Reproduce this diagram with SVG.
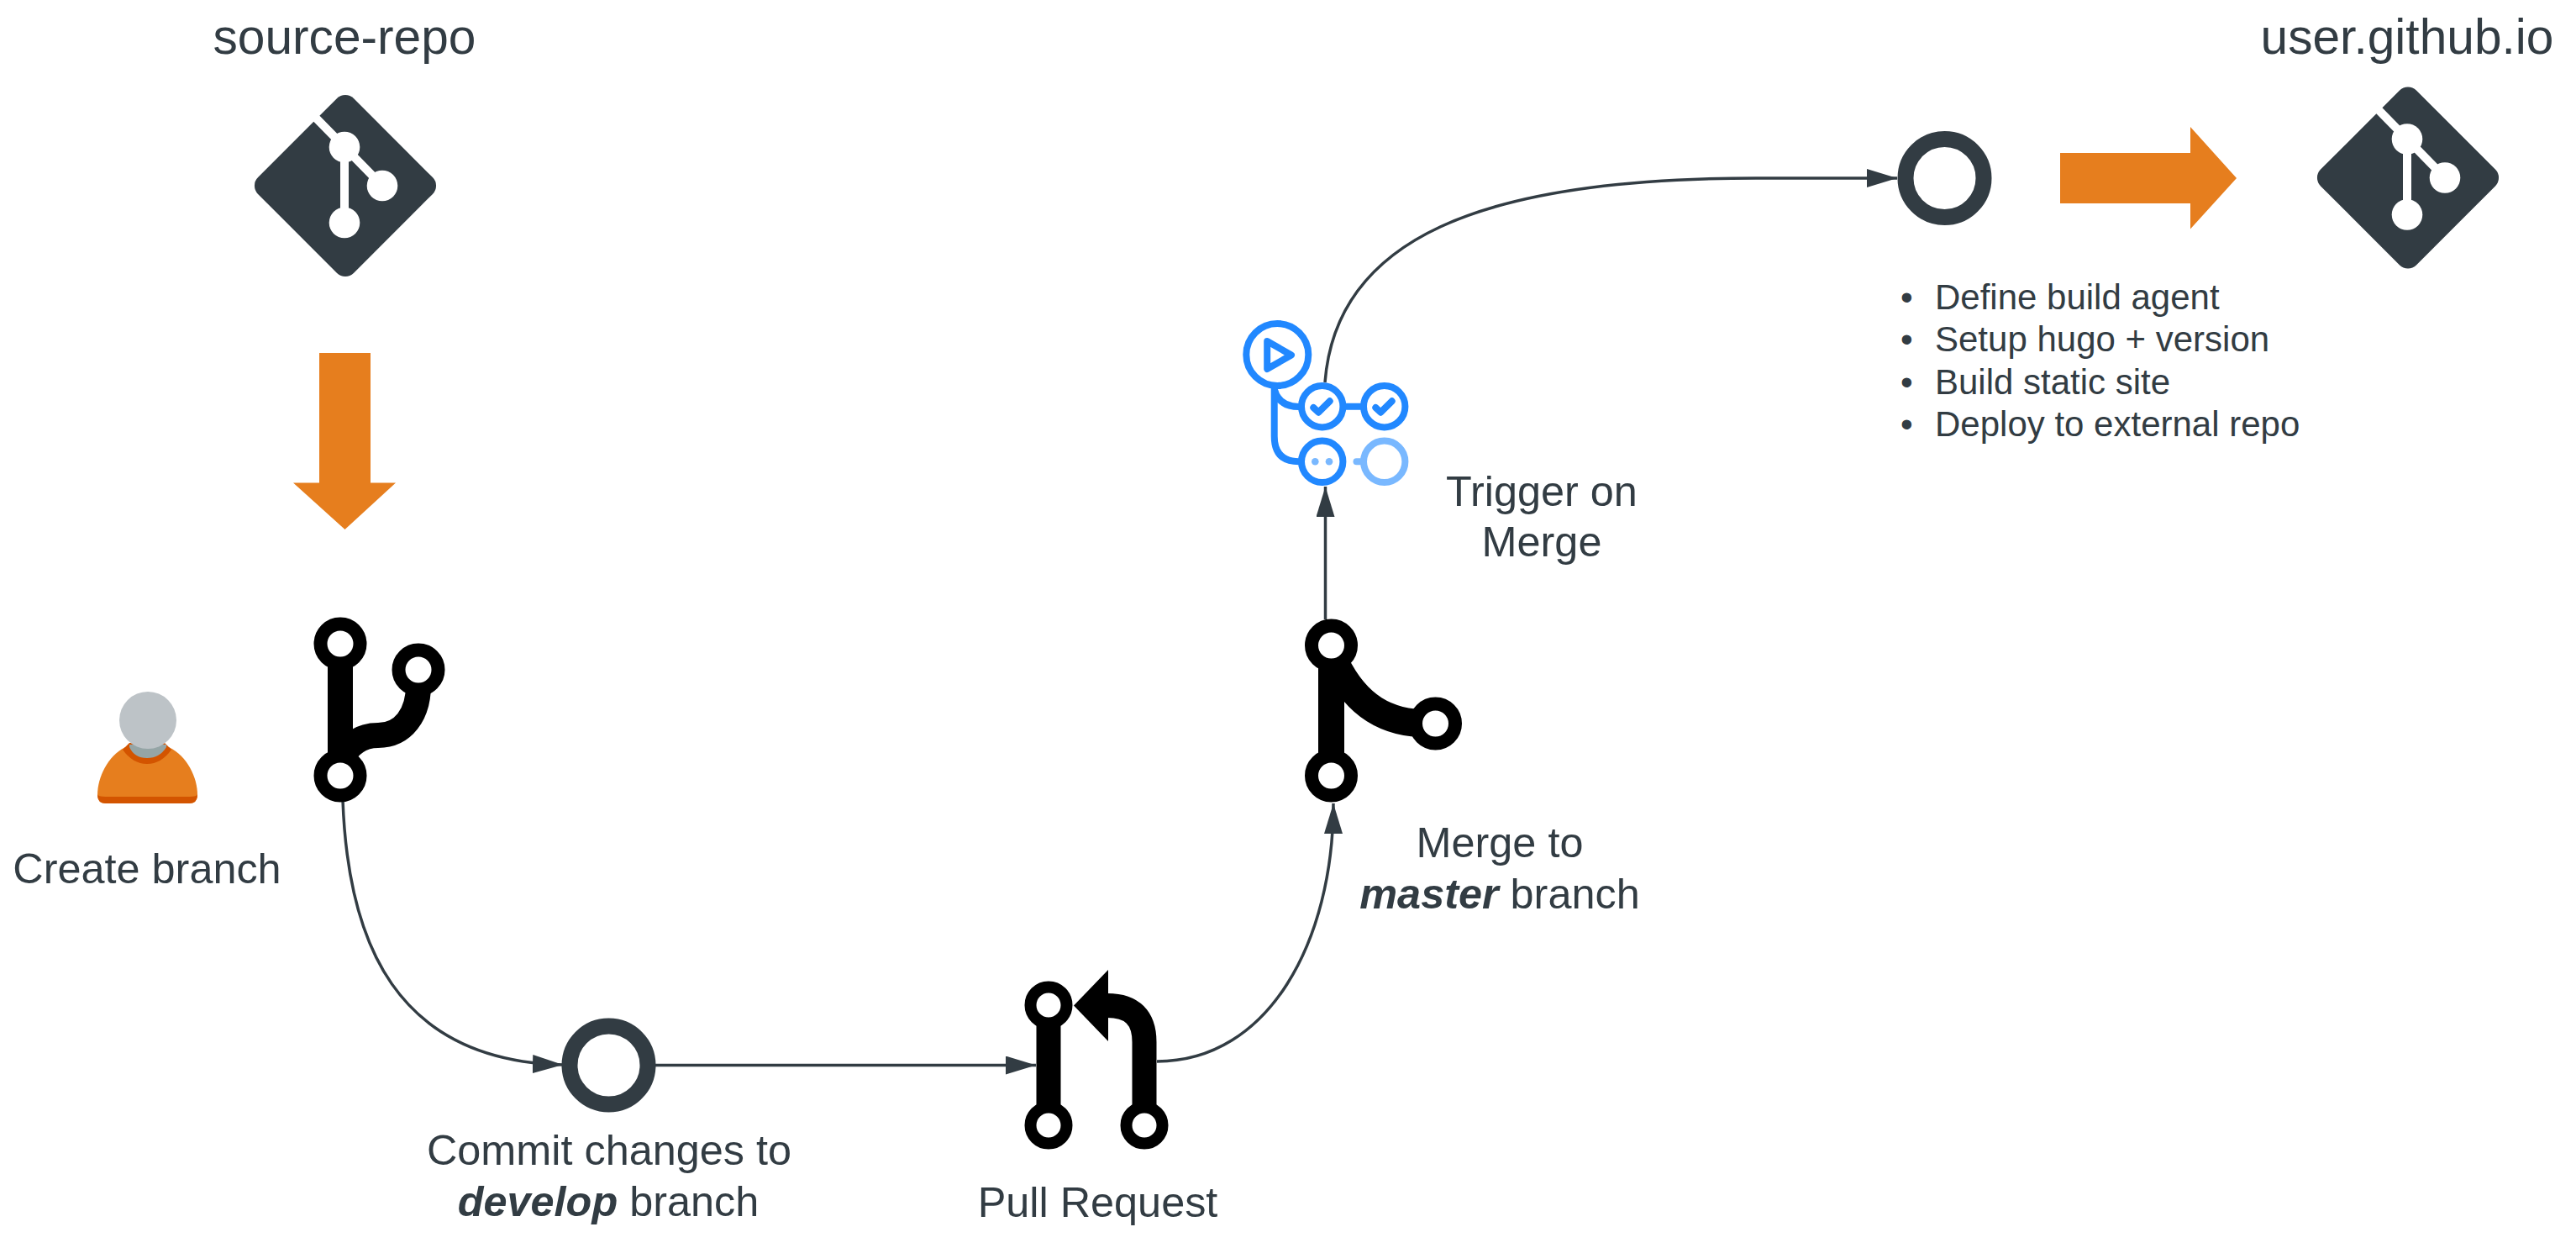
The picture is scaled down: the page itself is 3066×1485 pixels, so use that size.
<svg xmlns="http://www.w3.org/2000/svg" width="3066" height="1485" viewBox="0 0 3066 1485">
<style>
text{font-family:"Liberation Sans",Arial,sans-serif;fill:#323c43;font-size:50.4px}
.c{text-anchor:middle}
.t{font-size:58.67px}
.l{font-size:42px}
.be{font-weight:bold;font-style:italic}
.conn{fill:none;stroke:#323c43;stroke-width:3.5;marker-end:url(#ah)}
.ring{fill:#fff;stroke:#000;stroke-width:16}
.bar{fill:none;stroke:#000;stroke-width:30}
.ci{fill:#fff;stroke:#323c43;stroke-width:19}
.o{fill:#e67e1e}
.bl{fill:none;stroke:#2188ff;stroke-width:8;stroke-linecap:round;stroke-linejoin:round}
.lb{fill:none;stroke:#79b8ff;stroke-width:8;stroke-linecap:round}
.gw{fill:none;stroke:#fff;stroke-width:10}
</style>
<defs>
<marker id="ah" markerUnits="userSpaceOnUse" markerWidth="36" markerHeight="22" refX="36" refY="11" orient="auto"><path d="M0 0L36 11L0 22z" fill="#323c43"/></marker>
<g id="git">
<rect x="-80.500" y="-80.500" width="161" height="161" rx="14" fill="#323c43" transform="rotate(45)"/>
<path class="gw" d="M-52 -98L-1 -46L44 0M-1 -46V44"/>
<circle cx="-1" cy="-46" r="18.300" fill="#fff"/>
<circle cx="44" cy="0" r="18.300" fill="#fff"/>
<circle cx="-1" cy="44" r="18.300" fill="#fff"/>
</g>
</defs>
<rect width="3066" height="1485" fill="#fff"/>
<g id="connectors">
<path class="conn" d="M408 952C414 1120 470 1262 670 1267"/>
<path class="conn" d="M780 1267.500H1233"/>
<path class="conn" d="M1377 1263C1510 1263 1587 1120 1587 956"/>
<path class="conn" d="M1577.500 737V579"/>
<path class="conn" d="M1577 455C1590 285 1760 212 2090 212H2258"/>
</g>
<g id="source-repo">
<use href="#git" transform="translate(411 221)"/>
<text class="t c" x="410" y="64">source-repo</text>
</g>
<path id="arrow-down" class="o" d="M380 420H441V574.500H471L410.500 630L349 574.500H380z"/>
<g id="user-node">
<path fill="#e67e1e" d="M149 889C128 900 116 925 116 946Q116 956 126 956H225Q235 956 235 946C235 925 223 900 201 889z"/>
<path fill="#d35400" d="M116 945Q116 956 126 956H225Q235 956 235 945Q235 948 225 948H126Q116 948 116 945z"/>
<path fill="#d35400" d="M146 892Q158 909 175 909Q192 909 204 892L196 884H154z"/>
<path fill="#95a5a6" d="M154 886H198L198 889Q190 902 175 902Q160 902 154 889z"/>
<ellipse cx="176" cy="857" rx="34" ry="34" fill="#bdc3c7"/>
<text class="c" x="175" y="1051">Create branch</text>
</g>
<g id="branch">
<path class="bar" d="M405 766V923"/>
<path class="bar" d="M498 797V815C498 850 480 875 450 875C430 875 415 885 405 905"/>
<circle class="ring" cx="405" cy="766" r="23.500"/>
<circle class="ring" cx="498" cy="797" r="23.500"/>
<circle class="ring" cx="405" cy="923" r="23.500"/>
</g>
<g id="commit">
<circle class="ci" cx="724.500" cy="1267.500" r="46.500"/>
<text class="c" x="725" y="1386">Commit changes to</text>
<text class="c" x="724" y="1447"><tspan class="be">develop</tspan> branch</text>
</g>
<g id="pull-request">
<path class="bar" style="stroke-width:29" d="M1248 1196V1339"/>
<path class="bar" style="stroke-width:29" d="M1362 1339V1240Q1362 1196.500 1318 1196.500H1300"/>
<path d="M1278 1196.500L1319 1154V1239z" fill="#000"/>
<circle class="ring" cx="1248" cy="1196" r="21.500" style="stroke-width:14"/>
<circle class="ring" cx="1248" cy="1339" r="21.500" style="stroke-width:14"/>
<circle class="ring" cx="1362" cy="1339" r="21.500" style="stroke-width:14"/>
<text class="c" x="1306.500" y="1448">Pull Request</text>
</g>
<g id="merge">
<path class="bar" style="stroke-width:31" d="M1584.500 768V923"/>
<path class="bar" style="stroke-width:33" d="M1590 790C1615 840 1650 861 1700 861"/>
<circle class="ring" cx="1584.500" cy="768" r="23.500"/>
<circle class="ring" cx="1584.500" cy="923" r="23.500"/>
<circle class="ring" cx="1708.500" cy="861" r="23.500"/>
<text class="c" x="1785" y="1020">Merge to</text>
<text class="c" x="1785" y="1081"><tspan class="be">master</tspan> branch</text>
</g>
<g id="actions">
<circle class="bl" cx="1520.300" cy="422" r="37"/>
<path class="bl" d="M1508.200 406L1537 422.500L1508.200 439z"/>
<path class="bl" d="M1516.700 460V519Q1516.700 549.300 1546 549.300M1516.700 463Q1522 484 1546 484"/>
<circle class="bl" cx="1573.700" cy="483.700" r="24.700"/>
<circle class="bl" cx="1647.700" cy="483.700" r="24.700"/>
<path class="bl" d="M1602 483.700H1620M1563.300 485L1569.300 490.700L1582.700 477.300M1637.300 485L1643.300 490.700L1656.700 477.300"/>
<circle class="bl" cx="1573.700" cy="549.300" r="24.700"/>
<circle class="lb" cx="1647.700" cy="549.300" r="24.700"/>
<path class="lb" d="M1614.500 549.300H1620"/>
<circle cx="1565.300" cy="549.300" r="4.300" fill="#79b8ff"/>
<circle cx="1582" cy="549.300" r="4.300" fill="#79b8ff"/>
<text class="c" x="1835" y="602">Trigger on</text>
<text class="c" x="1835" y="662">Merge</text>
</g>
<g id="build">
<circle class="ci" cx="2314.500" cy="212" r="46.500"/>
<text class="l" x="2262" y="367.500">•</text><text class="l" x="2303" y="367.500">Define build agent</text>
<text class="l" x="2262" y="418">•</text><text class="l" x="2303" y="418">Setup hugo + version</text>
<text class="l" x="2262" y="468.500">•</text><text class="l" x="2303" y="468.500">Build static site</text>
<text class="l" x="2262" y="519">•</text><text class="l" x="2303" y="519">Deploy to external repo</text>
</g>
<path id="arrow-right" class="o" d="M2452 182H2607V151L2662 212L2607 272.500V242H2452z"/>
<g id="user-github-io">
<use href="#git" transform="translate(2866 211.500)"/>
<text class="t c" x="2865" y="64">user.github.io</text>
</g>
</svg>
